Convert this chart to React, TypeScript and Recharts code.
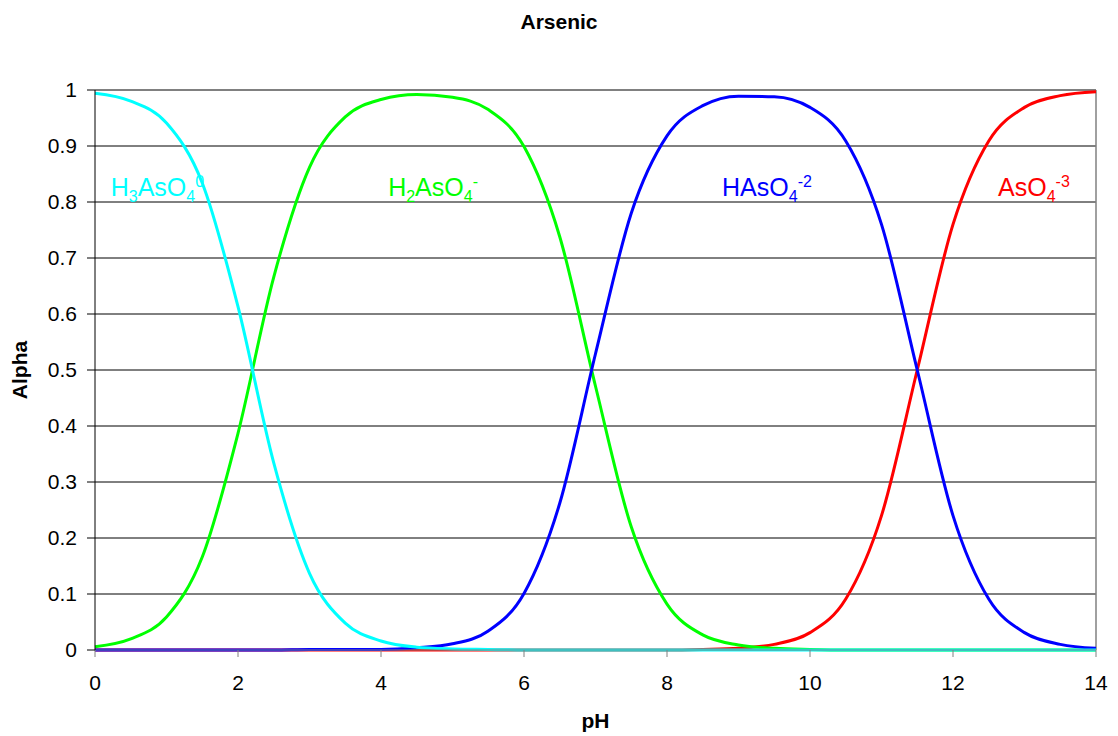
import React from 'react';
import {
  LineChart,
  Line,
  XAxis,
  YAxis,
  CartesianGrid,
  ReferenceLine,
  ReferenceDot,
} from 'recharts';

// pH grid and species fractions
const PH = [0, 0.5, 1, 1.5, 2, 2.5, 3, 3.5, 4, 4.5, 5, 5.5, 6, 6.5, 7, 7.5, 8, 8.5, 9, 9.5, 10, 10.5, 11, 11.5, 12, 12.5, 13, 13.5, 14];
const H3ASO4 = [0.994, 0.98, 0.941, 0.834, 0.613, 0.334, 0.137, 0.048, 0.016, 0.005, 0.002, 0.001, 0, 0, 0, 0, 0, 0, 0, 0, 0, 0, 0, 0, 0, 0, 0, 0, 0];
const H2ASO4 = [0.006, 0.02, 0.059, 0.166, 0.387, 0.666, 0.862, 0.952, 0.983, 0.992, 0.987, 0.965, 0.899, 0.738, 0.471, 0.22, 0.082, 0.027, 0.009, 0.003, 0.001, 0, 0, 0, 0, 0, 0, 0, 0];
const HASO4 = [0, 0, 0, 0, 0, 0, 0.001, 0.001, 0.001, 0.004, 0.011, 0.034, 0.101, 0.262, 0.529, 0.78, 0.918, 0.972, 0.989, 0.988, 0.969, 0.909, 0.76, 0.5, 0.24, 0.091, 0.031, 0.01, 0.003];
const ASO4 = [0, 0, 0, 0, 0, 0, 0, 0, 0, 0, 0, 0, 0, 0, 0, 0, 0, 0.001, 0.003, 0.01, 0.031, 0.091, 0.24, 0.5, 0.76, 0.909, 0.969, 0.99, 0.997];

const X_TICKS = [0, 2, 4, 6, 8, 10, 12, 14];
const Y_TICKS = [0, 0.1, 0.2, 0.3, 0.4, 0.5, 0.6, 0.7, 0.8, 0.9, 1];

// label anchors (pH, alpha) and pieces: [text, 'n' | 'sub' | 'sup']
const SPECIES_LABELS: { x: number; y: number; color: string; parts: [string, string][] }[] = [
  { x: 0.22, y: 0.811, color: '#00FFFF', parts: [['H', 'n'], ['3', 'sub'], ['AsO', 'n'], ['4', 'sub'], ['0', 'sup']] },
  { x: 4.1, y: 0.811, color: '#00FF00', parts: [['H', 'n'], ['2', 'sub'], ['AsO', 'n'], ['4', 'sub'], ['-', 'sup']] },
  { x: 8.77, y: 0.811, color: '#0000FF', parts: [['HAsO', 'n'], ['4', 'sub'], ['-2', 'sup']] },
  { x: 12.63, y: 0.811, color: '#FF0000', parts: [['AsO', 'n'], ['4', 'sub'], ['-3', 'sup']] },
];

const FONT = '"Liberation Sans", Arial, sans-serif';

const data = PH.map((ph, i) => ({
  pH: ph,
  h3: H3ASO4[i],
  h2: H2ASO4[i],
  h1: HASO4[i],
  a: ASO4[i],
}));

function SpeciesText({ viewBox, color, parts }: any) {
  const x = viewBox?.x ?? 0;
  const y = viewBox?.y ?? 0;
  let level = 0;
  return (
    <text x={x} y={y} fill={color} fontSize={25} fontFamily={FONT}>
      {parts.map(([t, kind]: [string, string], i: number) => {
        const target = kind === 'sub' ? 6 : kind === 'sup' ? -9 : 0;
        const dy = target - level;
        level = target;
        return (
          <tspan key={i} dy={dy} fontSize={kind === 'n' ? 25 : 16}>
            {t}
          </tspan>
        );
      })}
    </text>
  );
}

export default function App() {
  return (
    <div style={{ position: 'absolute', left: 0, top: 0, width: 1118, height: 736, background: '#fff', fontFamily: FONT }}>
      <div style={{ position: 'absolute', top: 10, left: 0, width: 1118, textAlign: 'center', fontSize: 21, fontWeight: 'bold' }}>
        Arsenic
      </div>
      <div style={{ position: 'absolute', left: 95, width: 1001, top: 709, textAlign: 'center', fontSize: 21, fontWeight: 'bold' }}>
        pH
      </div>
      <div
        style={{
          position: 'absolute',
          left: 20,
          top: 370,
          transform: 'translate(-50%, -50%) rotate(-90deg)',
          fontSize: 21,
          fontWeight: 'bold',
        }}
      >
        Alpha
      </div>
      <LineChart width={1118} height={736} data={data} margin={{ top: 90, right: 22, bottom: 0, left: 0 }}>
        <CartesianGrid vertical={false} stroke="#000" />
        <XAxis
          type="number"
          dataKey="pH"
          domain={[0, 14]}
          ticks={X_TICKS}
          height={86}
          tickSize={7}
          tickMargin={18}
          axisLine={{ stroke: '#808080' }}
          tickLine={{ stroke: '#808080' }}
          tick={{ fill: '#000', fontSize: 21, fontFamily: FONT }}
        />
        <YAxis
          type="number"
          domain={[0, 1]}
          ticks={Y_TICKS}
          width={95}
          tickSize={8}
          tickMargin={10}
          axisLine={{ stroke: '#000' }}
          tickLine={{ stroke: '#000' }}
          tick={{ fill: '#000', fontSize: 21, fontFamily: FONT }}
        />
        <ReferenceLine y={1} stroke="#808080" strokeWidth={2} />
        <ReferenceLine x={14} stroke="#808080" strokeWidth={1.5} />
        <Line type="monotone" dataKey="a" stroke="#FF0000" strokeWidth={3} dot={false} isAnimationActive={false} />
        <Line type="monotone" dataKey="h2" stroke="#00FF00" strokeWidth={3} dot={false} isAnimationActive={false} />
        <Line type="monotone" dataKey="h1" stroke="#0000FF" strokeWidth={3} dot={false} isAnimationActive={false} />
        <Line type="monotone" dataKey="h3" stroke="#00FFFF" strokeWidth={3} dot={false} isAnimationActive={false} />
        {SPECIES_LABELS.map((s, i) => (
          <ReferenceDot
            key={i}
            x={s.x}
            y={s.y}
            r={0}
            fill="none"
            stroke="none"
            label={(props: any) => <SpeciesText {...props} color={s.color} parts={s.parts} />}
          />
        ))}
      </LineChart>
    </div>
  );
}
